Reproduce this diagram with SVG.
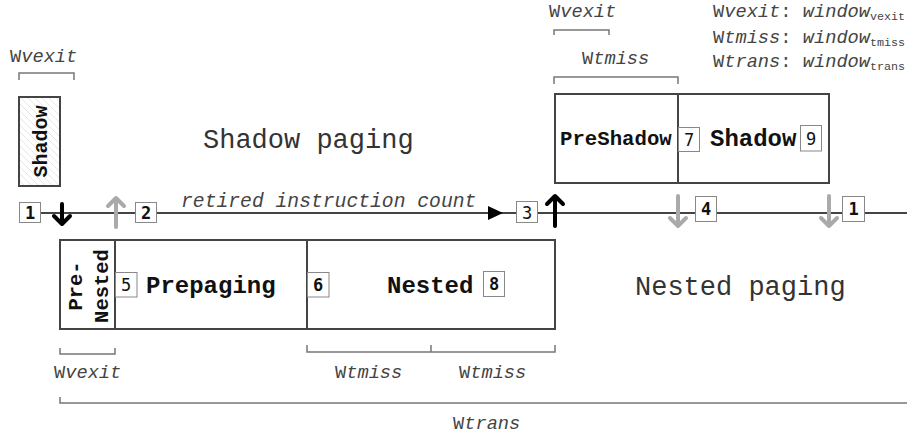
<svg xmlns="http://www.w3.org/2000/svg" width="907" height="441" viewBox="0 0 907 441">
  <style>
    .box { fill: #fff; stroke: #444; stroke-width: 2; }
    .div { stroke: #444; stroke-width: 2; }
    .num { fill: #fff; stroke: #888; stroke-width: 1; }
    .numt { font-family: "DejaVu Sans Mono", "Liberation Mono", monospace; font-size: 17px; fill: #111; text-anchor: middle; }
    .bold { font-family: "Liberation Mono", monospace; font-weight: bold; fill: #111; }
    .mode { font-family: "Liberation Mono", monospace; font-size: 27px; fill: #333; }
    .win { font-family: "Liberation Mono", monospace; font-size: 18.7px; fill: #444; }
    .it { font-style: italic; }
    .sub { font-size: 11.7px; }
    .brk { fill: none; stroke: #777; stroke-width: 1.5; }
    .tl { stroke: #444; stroke-width: 2; }
    .arB { fill: none; stroke: #000; stroke-width: 4; stroke-linecap: round; stroke-linejoin: round; }
    .arG { fill: none; stroke: #aaa; stroke-width: 4; stroke-linecap: round; stroke-linejoin: round; }
  </style>
  <defs>
    <pattern id="hatch" patternUnits="userSpaceOnUse" width="7" height="7">
      <path d="M-1,-1 L8,8 M-1,6 L1,8 M6,-1 L8,1" stroke="#e6e6e6" stroke-width="1"/>
    </pattern>
  </defs>

  <!-- window legend -->
  <g id="legend" class="win">
    <text x="713" y="17">W<tspan class="it">vexit</tspan>: <tspan class="it">window</tspan><tspan class="sub" dy="3">vexit</tspan></text>
    <text x="713" y="43">W<tspan class="it">tmiss</tspan>: <tspan class="it">window</tspan><tspan class="sub" dy="3">tmiss</tspan></text>
    <text x="713" y="67">W<tspan class="it">trans</tspan>: <tspan class="it">window</tspan><tspan class="sub" dy="3">trans</tspan></text>
  </g>

  <!-- mode labels -->
  <text class="mode" x="203" y="148">Shadow paging</text>
  <text class="mode" x="635" y="295">Nested paging</text>

  <!-- window brackets -->
  <g id="brackets">
    <path class="brk" d="M19,80 V73 H74 V80"/>
    <text class="win" x="10" y="62">W<tspan class="it">vexit</tspan></text>
    <path class="brk" d="M554,35 V30 H609 V35"/>
    <text class="win" x="549" y="17">W<tspan class="it">vexit</tspan></text>
    <path class="brk" d="M554,84 V77 H678 V84"/>
    <text class="win" x="582" y="64">W<tspan class="it">tmiss</tspan></text>
    <path class="brk" d="M60,348 V354 H115 V348"/>
    <text class="win" x="54" y="378">W<tspan class="it">vexit</tspan></text>
    <path class="brk" d="M307,345 V352 H555 V345 M431,345 V352"/>
    <text class="win" x="335" y="378">W<tspan class="it">tmiss</tspan></text>
    <text class="win" x="459" y="378">W<tspan class="it">tmiss</tspan></text>
    <path class="brk" d="M60,397 V403 H907"/>
    <text class="win" x="453" y="429">W<tspan class="it">trans</tspan></text>
  </g>

  <!-- timeline -->
  <g id="connectors">
    <line class="tl" x1="41" y1="213" x2="907" y2="213"/>
    <path d="M488,206 L503,213 L488,220 Z" fill="#000"/>
    <text class="win it" x="181" y="207" style="font-size:19.7px">retired instruction count</text>
    <!-- transition arrows -->
    <path class="arB" d="M62,204 V223 M54,216 L62,224 L70,216"/>
    <path class="arG" d="M116,227 V198 M108,206 L116,198 L124,206"/>
    <path class="arB" d="M555,226 V196 M547,204 L555,196 L563,204"/>
    <path class="arG" d="M678,196 V226 M670,218 L678,226 L686,218"/>
    <path class="arG" d="M829,196 V226 M821,218 L829,226 L837,218"/>
  </g>

  <!-- event markers on the timeline -->
  <g id="ev1a"><rect class="num" x="19.5" y="202.5" width="21" height="20"/><text class="numt" x="30" y="219" font-weight="bold">1</text></g>
  <g id="ev2"><rect class="num" x="135.5" y="202.5" width="21" height="20"/><text class="numt" x="146" y="219" font-weight="bold">2</text></g>
  <g id="ev3"><rect class="num" x="516.5" y="201.5" width="21" height="21"/><text class="numt" x="527" y="218.5">3</text></g>
  <g id="ev4"><rect class="num" x="695.5" y="196.5" width="21" height="25"/><text class="numt" x="706" y="215" font-weight="bold">4</text></g>
  <g id="ev1b"><rect class="num" x="842.5" y="196.5" width="22" height="25"/><text class="numt" x="853.5" y="215" font-weight="bold">1</text></g>

  <!-- short shadow phase before the first exit -->
  <g id="shadow-short">
    <rect class="box" x="19" y="97" width="41" height="89"/>
    <rect x="20" y="98" width="39" height="87" fill="url(#hatch)"/>
    <text class="bold" transform="translate(47,141.5) rotate(-90)" text-anchor="middle" font-size="20">Shadow</text>
  </g>

  <!-- nested-paging phases -->
  <g id="nested-phases">
    <rect class="box" x="60" y="240" width="495" height="89"/>
    <line class="div" x1="115" y1="240" x2="115" y2="329"/>
    <line class="div" x1="307" y1="240" x2="307" y2="329"/>
  </g>
  <g id="pre-nested">
    <text class="bold" transform="translate(82,286) rotate(-90)" text-anchor="middle" font-size="20.5">Pre-</text>
    <text class="bold" transform="translate(108,286) rotate(-90)" text-anchor="middle" font-size="20.5">Nested</text>
  </g>
  <g id="prepaging">
    <rect class="num" x="115.5" y="272.5" width="21.5" height="24.5"/><text class="numt" x="126" y="291">5</text>
    <text class="bold" x="146" y="293" font-size="24">Prepaging</text>
  </g>
  <g id="nested">
    <rect class="num" x="307.5" y="272.5" width="21.5" height="24.5"/><text class="numt" x="318" y="291" font-weight="bold">6</text>
    <text class="bold" x="387" y="293" font-size="24">Nested</text>
    <rect class="num" x="483.5" y="271.5" width="21" height="25"/><text class="numt" x="494" y="290" font-weight="bold">8</text>
  </g>

  <!-- shadow-paging phases -->
  <g id="shadow-phases">
    <rect class="box" x="555" y="94" width="274" height="89"/>
    <line class="div" x1="678" y1="94" x2="678" y2="183"/>
  </g>
  <g id="preshadow">
    <text class="bold" x="560" y="145" font-size="20.7">PreShadow</text>
    <rect class="num" x="678.5" y="127.5" width="21" height="24"/><text class="numt" x="689" y="146">7</text>
  </g>
  <g id="shadow">
    <text class="bold" x="710" y="146" font-size="24">Shadow</text>
    <rect class="num" x="800.5" y="125.5" width="21" height="25.5"/><text class="numt" x="811" y="145">9</text>
  </g>
</svg>
